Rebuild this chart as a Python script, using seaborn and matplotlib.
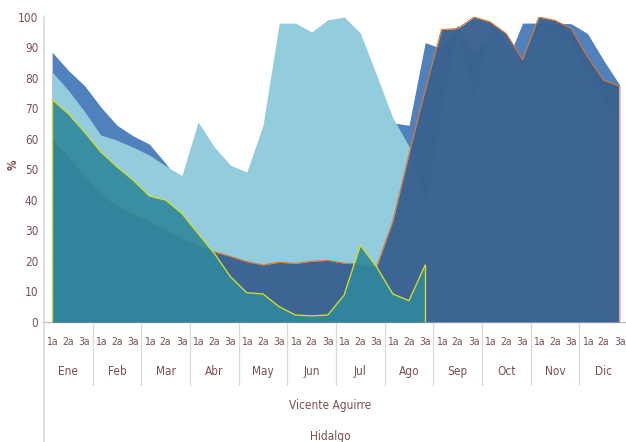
import numpy as np
import pandas as pd
import matplotlib
matplotlib.use("Agg")
import matplotlib.pyplot as plt
import matplotlib.transforms as mtransforms
from matplotlib import font_manager
import seaborn as sns

# categories
months = ["Ene", "Feb", "Mar", "Abr", "May", "Jun", "Jul", "Ago", "Sep", "Oct", "Nov", "Dic"]
decades = ["1a", "2a", "3a"]
level2 = "Vicente Aguirre"
level3 = "Hidalgo"

# series values (%), one per decade
serie_a = [88.5, 82.5, 77.5, 70.5, 64.5, 61, 58.3, 52, 45,
           40, 38, 36, 35, 40, 50, 55, 60, 62,
           64, 64, 62, 65.3, 64.5, 91.6, 89.7, 97.3, 88,
           93, 85, 98, 98, 98, 97.8, 94.6, 85.8, 77.6]
serie_b = [82, 76, 69, 61.3, 59.6, 57.3, 54.7, 51.2, 48,
           65.6, 57.4, 51.4, 49.2, 64.5, 98, 98, 95.1, 99.1,
           100, 94.8, 81, 67, 57.6, 38, 70, 96, 73,
           98, 92, 84, 97, 95, 92, 82, 72, 66]
serie_c = [60, 54, 48, 42, 38, 35.5, 33, 30.2, 27.5,
           25, 23, 21.5, 19.8, 18.7, 19.6, 19.2, 19.9, 20.2,
           19.3, 19, 18.1, 33, 55, 76, 95.9, 96.2, 100,
           98.4, 94.5, 86, 100, 98.9, 96.2, 87, 79.3, 77.3]
serie_d = [73, 68.3, 62.3, 55.8, 50.9, 46.5, 41.3, 40, 35.6,
           29, 22.5, 14.8, 9.6, 9.2, 5, 2.3, 2, 2.3,
           8.8, 25.2, 18.1, 9.2, 7, 18.7] + [np.nan] * 12

labels = [d for m in months for d in decades]
df = pd.DataFrame({"x": np.arange(len(labels)), "a": serie_a, "b": serie_b,
                   "c": serie_c, "d": serie_d})

sns.set_theme(style="white")

# narrow font like Calibri if one is around
names = {f.name for f in font_manager.fontManager.ttflist}
stretch = "normal"
if "Liberation Sans Narrow" in names:
    fam = "Liberation Sans Narrow"
elif any(f.name == "DejaVu Sans" and f.stretch == "condensed" for f in font_manager.fontManager.ttflist):
    fam = "DejaVu Sans"
    stretch = "condensed"
else:
    fam = "Liberation Sans"
plt.rcParams["font.family"] = [fam, "DejaVu Sans"]
plt.rcParams["font.stretch"] = stretch
fs = 8.5 if fam == "Liberation Sans Narrow" else 7.5
text_col = "#7b4f4f"

fig = plt.figure(figsize=(6.26, 4.42), dpi=100)
ax = fig.add_axes([44 / 626, 1 - 322 / 442, 584 / 626, 305 / 442])

# areas, back to front
ax.fill_between(df["x"], 0, df["a"], color="#4f81bd", lw=0, zorder=1)
ax.fill_between(df["x"], 0, df["b"], color="#93cddd", lw=0, zorder=2)
ax.fill_between(df["x"], 0, df["c"], color="#3a6291", alpha=0.97, lw=0, zorder=3)
sns.lineplot(data=df, x="x", y="c", color="#e4762a", lw=0.8, ax=ax, zorder=3.1)
last = df["x"].iloc[-1]
ax.vlines(last, 0, df["c"].iloc[-1], color="#f2c9a8", lw=1.2, zorder=3.1)

ax.fill_between(df["x"], 0, df["d"], color="#30889c", alpha=0.9, lw=0, zorder=4)
dd = df.dropna()
sns.lineplot(data=dd, x="x", y="d", color="#cfdc2e", lw=1.0, ax=ax, zorder=4.1)
ax.vlines([dd["x"].iloc[0], dd["x"].iloc[-1]], 0, [dd["d"].iloc[0], dd["d"].iloc[-1]],
          color="#cfdc2e", lw=1.0, zorder=4.1)

ax.set_xlim(-0.5, len(labels) - 0.5)
ax.set_ylim(0, 100)
ax.set_yticks(range(0, 101, 10))
ax.set_xticks(df["x"])
ax.set_xticklabels(labels)
ax.tick_params(axis="x", length=0, pad=10.5, labelsize=fs, labelcolor=text_col)
ax.tick_params(axis="y", length=0, pad=4, labelsize=fs + 1, labelcolor=text_col)
ax.set_xlabel("")
ax.set_ylabel("")

for s in ["top", "right", "left"]:
    ax.spines[s].set_visible(False)
ax.spines["bottom"].set_color("#bfbfbf")
ax.spines["bottom"].set_linewidth(1)

# multi-level category axis
trans = mtransforms.blended_transform_factory(ax.transData, ax.transAxes)
for i, m in enumerate(months):
    ax.text(3 * i + 1, -0.161, m, transform=trans, ha="center", va="center",
            fontsize=fs + 1, color=text_col)
    if i > 0:
        ax.plot([3 * i - 0.5] * 2, [0, -0.207], transform=trans, color="#d9d9d9",
                lw=0.9, clip_on=False)
ax.plot([-0.5, -0.5], [1, -0.40], transform=trans, color="#d9d9d9", lw=1.2, clip_on=False)
ax.text(0.49, -0.275, level2, transform=ax.transAxes, ha="center", va="center",
        fontsize=fs + 1, color=text_col)
ax.text(0.49, -0.374, level3, transform=ax.transAxes, ha="center", va="center",
        fontsize=fs + 1, color=text_col)

fig.text(13 / 626, 1 - 165 / 442, "%", rotation=90, ha="center", va="center",
         fontsize=fs + 1, fontweight="bold", color=text_col)

fig.savefig("out.png", dpi=100)
